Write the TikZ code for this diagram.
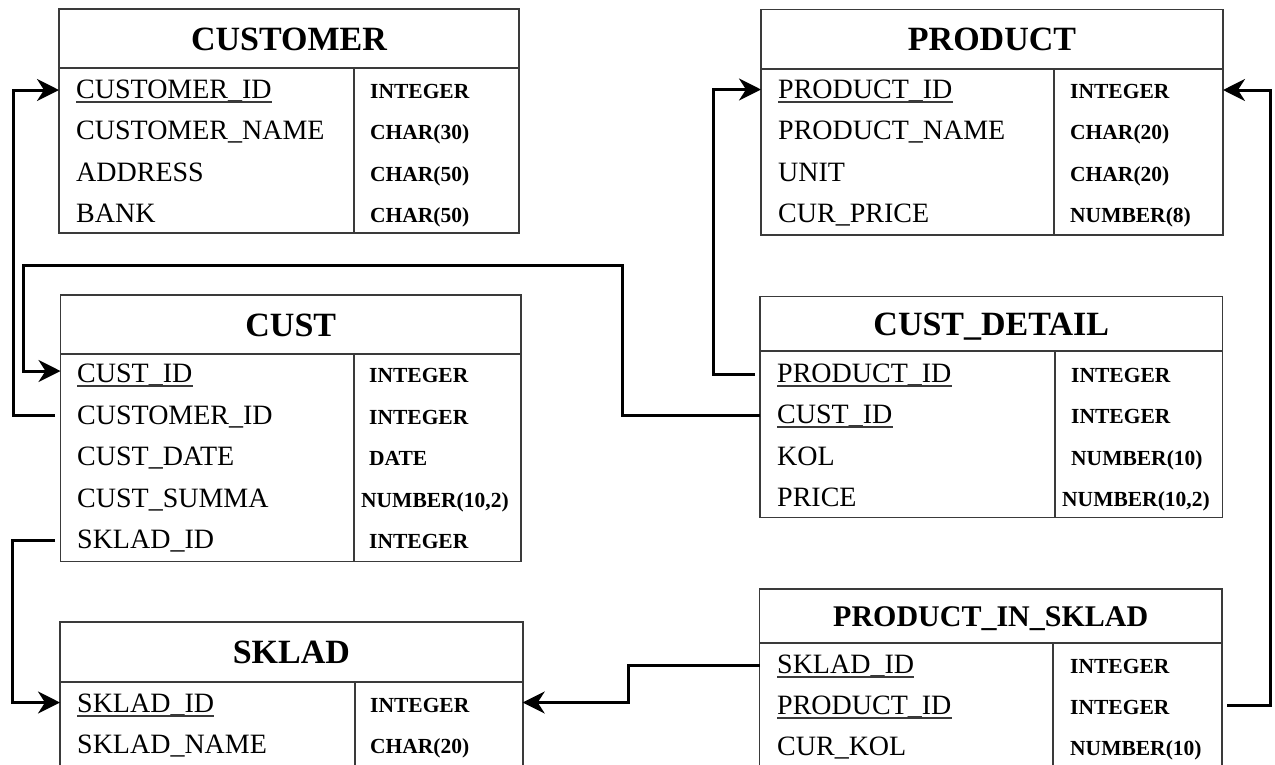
\documentclass[tikz,border=0pt]{standalone}
\usepackage{fontspec}
\setmainfont{Liberation Serif}
\usetikzlibrary{arrows.meta,calc}
\definecolor{framegray}{HTML}{3A3A3A}
\tikzset{
  tbl/.style={draw=framegray, line width=1.8pt, rectangle, anchor=north west, inner sep=0pt, outer sep=0pt},
  frame/.style={draw=framegray, line width=1.8pt},
  ttl/.style={font=\bfseries\fontsize{34}{34}\selectfont, anchor=base, inner sep=0pt},
  ttlsmall/.style={font=\bfseries\fontsize{30}{30}\selectfont, anchor=base, inner sep=0pt},
  fld/.style={font=\fontsize{28}{28}\selectfont, anchor=base west, inner sep=0pt},
  typ/.style={font=\bfseries\fontsize{21.5}{22}\selectfont, anchor=base west, inner sep=0pt},
  ul/.style={draw=framegray, line width=1.6pt},
  link/.style={draw=black, line width=3pt},
  fk/.style={link, -{Stealth[length=22pt,width=22pt,inset=7pt]}},
}
\begin{document}
\begin{tikzpicture}[x=1pt,y=-1pt]
\useasboundingbox (0,0) rectangle (1275,764);
\fill[white] (0,0) rectangle (1275,764);

% ---------- CUSTOMER ----------
\node[tbl, minimum width=460pt, minimum height=224pt] (customer) at (59,9) {};
\draw[frame] (59,68) -- (519,68) (354,68) -- (354,233);
\node[ttl] (customer-t) at (289,50) {CUSTOMER};
\node[fld] (customer-f1) at (76,98.5) {CUSTOMER\_ID};
\node[fld] (customer-f2) at (76,139.5) {CUSTOMER\_NAME};
\node[fld] (customer-f3) at (76,181) {ADDRESS};
\node[fld] (customer-f4) at (76,222) {BANK};
\node[typ] (customer-y1) at (370,98.5) {INTEGER};
\node[typ] (customer-y2) at (370,139.5) {CHAR(30)};
\node[typ] (customer-y3) at (370,181) {CHAR(50)};
\node[typ] (customer-y4) at (370,222) {CHAR(50)};
\draw[ul] ($(customer-f1.base west)+(0,3.7)$) -- ($(customer-f1.base east)+(0,3.7)$);

% ---------- PRODUCT ----------
\node[tbl, minimum width=462pt, minimum height=225.5pt] (product) at (761,9.5) {};
\draw[frame] (761,69) -- (1223,69) (1054,69) -- (1054,235);
\node[ttl] (product-t) at (992,50.5) {PRODUCT};
\node[fld] (product-f1) at (778,98.5) {PRODUCT\_ID};
\node[fld] (product-f2) at (778,139.5) {PRODUCT\_NAME};
\node[fld] (product-f3) at (778,181) {UNIT};
\node[fld] (product-f4) at (778,222) {CUR\_PRICE};
\node[typ] (product-y1) at (1070,98.5) {INTEGER};
\node[typ] (product-y2) at (1070,139.5) {CHAR(20)};
\node[typ] (product-y3) at (1070,181) {CHAR(20)};
\node[typ] (product-y4) at (1070,222) {NUMBER(8)};
\draw[ul] ($(product-f1.base west)+(0,3.7)$) -- ($(product-f1.base east)+(0,3.7)$);

% ---------- CUST ----------
\node[tbl, minimum width=460.5pt, minimum height=266.5pt] (cust) at (60.5,295) {};
\draw[frame] (60.5,354) -- (521,354) (354,354) -- (354,561.5);
\node[ttl] (cust-t) at (290.75,336) {CUST};
\node[fld] (cust-f1) at (77,382.5) {CUST\_ID};
\node[fld] (cust-f2) at (77,424) {CUSTOMER\_ID};
\node[fld] (cust-f3) at (77,465.5) {CUST\_DATE};
\node[fld] (cust-f4) at (77,507) {CUST\_SUMMA};
\node[fld] (cust-f5) at (77,548.5) {SKLAD\_ID};
\node[typ] (cust-y1) at (369,382.5) {INTEGER};
\node[typ] (cust-y2) at (369,424) {INTEGER};
\node[typ] (cust-y3) at (369,465.5) {DATE};
\node[typ] (cust-y4) at (361,507) {NUMBER(10,2)};
\node[typ] (cust-y5) at (369,548.5) {INTEGER};
\draw[ul] ($(cust-f1.base west)+(0,3.7)$) -- ($(cust-f1.base east)+(0,3.7)$);

% ---------- CUST_DETAIL ----------
\node[tbl, minimum width=462.5pt, minimum height=221pt] (detail) at (760,296.5) {};
\draw[frame] (760,351) -- (1222.5,351) (1055,351) -- (1055,517.5);
\node[ttl] (detail-t) at (991.25,335) {CUST\_DETAIL};
\node[fld] (detail-f1) at (777,382.5) {PRODUCT\_ID};
\node[fld] (detail-f2) at (777,423.5) {CUST\_ID};
\node[fld] (detail-f3) at (777,465) {KOL};
\node[fld] (detail-f4) at (777,506) {PRICE};
\node[typ] (detail-y1) at (1071,382.5) {INTEGER};
\node[typ] (detail-y2) at (1071,423.5) {INTEGER};
\node[typ] (detail-y3) at (1071,465) {NUMBER(10)};
\node[typ] (detail-y4) at (1062,506) {NUMBER(10,2)};
\draw[ul] ($(detail-f1.base west)+(0,3.7)$) -- ($(detail-f1.base east)+(0,3.7)$);
\draw[ul] ($(detail-f2.base west)+(0,3.7)$) -- ($(detail-f2.base east)+(0,3.7)$);

% ---------- SKLAD ----------
\node[tbl, minimum width=462.7pt, minimum height=144pt] (sklad) at (60,622.3) {};
\draw[frame] (60,681.7) -- (522.7,681.7) (355,681.7) -- (355,766.3);
\node[ttl] (sklad-t) at (291.35,663.5) {SKLAD};
\node[fld] (sklad-f1) at (77,712) {SKLAD\_ID};
\node[fld] (sklad-f2) at (77,753) {SKLAD\_NAME};
\node[typ] (sklad-y1) at (370,712) {INTEGER};
\node[typ] (sklad-y2) at (370,753) {CHAR(20)};
\draw[ul] ($(sklad-f1.base west)+(0,3.7)$) -- ($(sklad-f1.base east)+(0,3.7)$);

% ---------- PRODUCT_IN_SKLAD ----------
\node[tbl, minimum width=462.5pt, minimum height=177pt] (pis) at (759.5,589.3) {};
\draw[frame] (759.5,643.3) -- (1222,643.3) (1053,643.3) -- (1053,766.3);
\node[ttlsmall] (pis-t) at (990.75,626.5) {PRODUCT\_IN\_SKLAD};
\node[fld] (pis-f1) at (777,673.5) {SKLAD\_ID};
\node[fld] (pis-f2) at (777,714.5) {PRODUCT\_ID};
\node[fld] (pis-f3) at (777,755.5) {CUR\_KOL};
\node[typ] (pis-y1) at (1070,673.5) {INTEGER};
\node[typ] (pis-y2) at (1070,714.5) {INTEGER};
\node[typ] (pis-y3) at (1070,755.5) {NUMBER(10)};
\draw[ul] ($(pis-f1.base west)+(0,3.7)$) -- ($(pis-f1.base east)+(0,3.7)$);
\draw[ul] ($(pis-f2.base west)+(0,3.7)$) -- ($(pis-f2.base east)+(0,3.7)$);

% ---------- connection points ----------
\coordinate (customer-in) at ($(customer.west |- customer-f1.base)+(0,-8.5)$);
\coordinate (product-in-l) at ($(product.west |- product-f1.base)+(0,-9)$);
\coordinate (product-in-r) at ($(product.east |- product-f1.base)+(0,-8.5)$);
\coordinate (cust-in) at ($(cust.west |- cust-f1.base)+(0,-11.5)$);
\coordinate (cust-out-customer) at ($(cust.west |- cust-f2.base)+(-5.5,-9)$);
\coordinate (cust-out-sklad) at ($(cust.west |- cust-f5.base)+(-5.5,-8.5)$);
\coordinate (detail-out-product) at ($(detail.west |- detail-f1.base)+(-5,-8.5)$);
\coordinate (detail-out-cust) at ($(detail.west |- detail-f2.base)+(0,-8.5)$);
\coordinate (sklad-in-l) at ($(sklad.west |- sklad-f1.base)+(0,-9.5)$);
\coordinate (sklad-in-r) at ($(sklad.east |- sklad-f1.base)+(0,-9.5)$);
\coordinate (pis-out-sklad) at ($(pis.west |- pis-f1.base)+(0,-8.5)$);
\coordinate (pis-out-product) at ($(pis.east |- pis-f2.base)+(5,-9.5)$);

% ---------- foreign keys ----------
\draw[fk] (cust-out-customer) -- ++(-42,0) |- (customer-in);
\draw[fk] (detail-out-cust) -- ++(-138,0) |- ++(-599,-150) |- (cust-in);
\draw[fk] (detail-out-product) -- ++(-42,0) |- (product-in-l);
\draw[fk] (cust-out-sklad) -- ++(-42.5,0) |- (sklad-in-l);
\draw[fk] (pis-out-sklad) -- ++(-131.5,0) |- (sklad-in-r);
\draw[fk] (pis-out-product) -- ++(43,0) |- (product-in-r);
\end{tikzpicture}
\end{document}
